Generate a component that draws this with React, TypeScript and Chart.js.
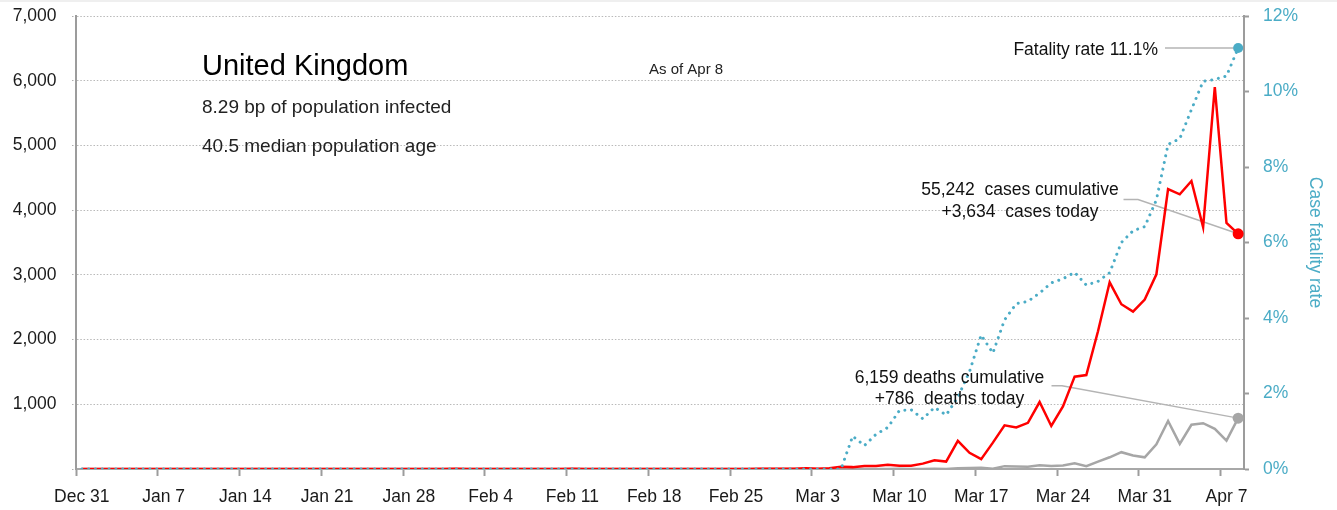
import React, { useEffect, useRef } from "react";
import { Chart, registerables } from "chart.js";

Chart.register(...registerables);

// ---------- data ----------
const MONTHS = ["Jan", "Feb", "Mar", "Apr"];
const MONTH_DAYS = [31, 29, 31, 30];
const FIRST_DAY = "Dec 31";
const DAY_COUNT = 100; // Dec 31 .. Apr 8

const weekTickLabels = [
  "Dec 31", "Jan 7", "Jan 14", "Jan 21", "Jan 28", "Feb 4", "Feb 11", "Feb 18",
  "Feb 25", "Mar 3", "Mar 10", "Mar 17", "Mar 24", "Mar 31", "Apr 7",
];

// daily new cases (left axis)
const dailyCases = [
  0, 0, 0, 0, 0, 0, 0, 0, 0, 0,
  0, 0, 0, 0, 0, 0, 0, 0, 0, 0,
  0, 0, 0, 0, 0, 0, 0, 0, 0, 0,
  0, 0, 2, 0, 0, 0, 0, 0, 1, 0,
  0, 0, 4, 0, 1, 0, 0, 0, 0, 0,
  0, 0, 0, 0, 0, 0, 0, 0, 4, 2,
  5, 3, 13, 4, 11, 34, 29, 48, 45, 64,
  51, 52, 83, 134, 115, 435, 251, 152, 407, 676,
  643, 714, 1035, 665, 967, 1427, 1452, 2129, 2885, 2546,
  2433, 2619, 3009, 4324, 4244, 4450, 3735, 5903, 3802, 3634,
];

// daily new deaths (left axis)
const dailyDeaths = [
  0, 0, 0, 0, 0, 0, 0, 0, 0, 0,
  0, 0, 0, 0, 0, 0, 0, 0, 0, 0,
  0, 0, 0, 0, 0, 0, 0, 0, 0, 0,
  0, 0, 0, 0, 0, 0, 0, 0, 0, 0,
  0, 0, 0, 0, 0, 0, 0, 0, 0, 0,
  0, 0, 0, 0, 0, 0, 0, 0, 0, 0,
  0, 0, 0, 0, 0, 0, 1, 0, 1, 1,
  2, 1, 0, 4, 0, 11, 14, 20, 5, 44,
  40, 33, 56, 48, 54, 87, 43, 113, 181, 260,
  209, 180, 381, 743, 389, 684, 708, 621, 439, 786,
];

// case fatality rate, % (right axis)
const fatalityRate = [
  0, 0, 0, 0, 0, 0, 0, 0, 0, 0,
  0, 0, 0, 0, 0, 0, 0, 0, 0, 0,
  0, 0, 0, 0, 0, 0, 0, 0, 0, 0,
  0, 0, 0, 0, 0, 0, 0, 0, 0, 0,
  0, 0, 0, 0, 0, 0, 0, 0, 0, 0,
  0, 0, 0, 0, 0, 0, 0, 0, 0, 0,
  0, 0, 0, 0, 0, 0, 0.87, 0.62, 0.92, 1.1,
  1.55, 1.57, 1.33, 1.63, 1.43, 1.9, 2.58, 3.55, 3.07, 3.95,
  4.38, 4.44, 4.66, 4.93, 5.04, 5.21, 4.87, 4.97, 5.2, 6.0,
  6.31, 6.42, 7.13, 8.6, 8.75, 9.52, 10.27, 10.32, 10.41, 11.15,
];

const leftTicks = [0, 1000, 2000, 3000, 4000, 5000, 6000, 7000];
const rightTicks = [0, 2, 4, 6, 8, 10, 12];

const countryName = "United Kingdom";
const infoLines = ["8.29 bp of population infected", "40.5 median population age"];
const asOfText = "As of Apr 8";
const fatalityNote = "Fatality rate 11.1%";
const casesNote = ["55,242  cases cumulative", "+3,634  cases today"];
const deathsNote = ["6,159 deaths cumulative", "+786  deaths today"];

function buildDays(): string[] {
  const out: string[] = [FIRST_DAY];
  for (let m = 0; m < MONTHS.length && out.length < DAY_COUNT; m++) {
    for (let d = 1; d <= MONTH_DAYS[m] && out.length < DAY_COUNT; d++) {
      out.push(`${MONTHS[m]} ${d}`);
    }
  }
  return out;
}
const days = buildDays();

// ---------- styling ----------
const FONT = "'Liberation Sans', Arial, Helvetica, sans-serif";
const TEAL = "#4bacc6";
const RED = "#ff0000";
const GRAY = "#a6a6a6";
const AXIS = "#9c9c9c";
const LEADER = "#b4b4b4";

const lastIdx = DAY_COUNT - 1;
const pointSizes = (r: number) => days.map((_, i) => (i === lastIdx ? r : 0));

const overlayPlugin = {
  id: "overlay",
  beforeDraw(chart: any) {
    const { ctx, width, height } = chart;
    ctx.save();
    ctx.fillStyle = "#ffffff";
    ctx.fillRect(0, 0, width, height);
    ctx.fillStyle = "#efefef";
    ctx.fillRect(0, 0, width, 2);
    ctx.restore();
  },
  beforeDatasetsDraw(chart: any) {
    const { ctx } = chart;
    const tealPt = chart.getDatasetMeta(0).data[lastIdx];
    const redPt = chart.getDatasetMeta(1).data[lastIdx];
    const grayPt = chart.getDatasetMeta(2).data[lastIdx];
    ctx.save();
    ctx.strokeStyle = LEADER;
    ctx.lineWidth = 1.5;
    ctx.beginPath();
    ctx.moveTo(1165, tealPt.y);
    ctx.lineTo(tealPt.x, tealPt.y);
    ctx.stroke();
    ctx.beginPath();
    ctx.moveTo(1123.5, 199.5);
    ctx.lineTo(1138, 199.5);
    ctx.lineTo(redPt.x, redPt.y);
    ctx.stroke();
    ctx.beginPath();
    ctx.moveTo(1051.5, 385.7);
    ctx.lineTo(1062, 385.7);
    ctx.lineTo(grayPt.x, grayPt.y);
    ctx.stroke();
    ctx.restore();
  },
  afterDatasetsDraw(chart: any) {
    const { ctx } = chart;
    ctx.save();
    ctx.textBaseline = "alphabetic";
    ctx.fillStyle = "#000";
    ctx.textAlign = "left";
    ctx.font = `29px ${FONT}`;
    ctx.fillText(countryName, 202, 75);
    ctx.fillStyle = "#222";
    ctx.font = `19px ${FONT}`;
    ctx.fillText(infoLines[0], 202, 112.7);
    ctx.fillText(infoLines[1], 202, 151.7);
    ctx.font = `15px ${FONT}`;
    ctx.fillText(asOfText, 649, 74);

    ctx.fillStyle = "#111";
    ctx.font = `17.5px ${FONT}`;
    ctx.textAlign = "right";
    ctx.fillText(fatalityNote, 1158, 54.5);
    ctx.textAlign = "center";
    ctx.fillText(casesNote[0], 1020, 195);
    ctx.fillText(casesNote[1], 1020, 217.3);
    ctx.fillText(deathsNote[0], 949.5, 382.5);
    ctx.fillText(deathsNote[1], 949.5, 404);
    ctx.restore();
  },
};

export default function App() {
  const canvasRef = useRef<HTMLCanvasElement | null>(null);

  useEffect(() => {
    const canvas = canvasRef.current;
    if (!canvas) return;
    Chart.defaults.font.family = FONT;

    const chart = new Chart(canvas, {
      type: "line",
      data: {
        labels: days,
        datasets: [
          {
            label: "Case fatality rate",
            data: fatalityRate,
            yAxisID: "y1",
            borderColor: TEAL,
            backgroundColor: TEAL,
            borderWidth: 3,
            borderDash: [0.01, 6.8],
            borderCapStyle: "round",
            pointRadius: pointSizes(5),
            pointBackgroundColor: TEAL,
            pointBorderWidth: 0,
            tension: 0,
            order: 0,
          },
          {
            label: "Daily cases",
            data: dailyCases,
            yAxisID: "y",
            borderColor: RED,
            backgroundColor: RED,
            borderWidth: 2.5,
            pointRadius: pointSizes(5.5),
            pointBackgroundColor: RED,
            pointBorderWidth: 0,
            tension: 0,
            order: 1,
          },
          {
            label: "Daily deaths",
            data: dailyDeaths,
            yAxisID: "y",
            borderColor: GRAY,
            backgroundColor: GRAY,
            borderWidth: 2.5,
            pointRadius: pointSizes(5.5),
            pointBackgroundColor: GRAY,
            pointBorderWidth: 0,
            tension: 0,
            order: 2,
          },
        ],
      },
      options: {
        responsive: false,
        maintainAspectRatio: false,
        animation: false,
        devicePixelRatio: 1,
        events: [],
        layout: { padding: { top: 16, left: 0, right: 0, bottom: 0 } },
        plugins: {
          legend: { display: false },
          tooltip: { enabled: false },
          title: { display: false },
        },
        scales: {
          x: {
            type: "category",
            offset: true,
            grid: {
              display: true,
              drawOnChartArea: false,
              drawTicks: true,
              offset: true,
              tickLength: 7,
              tickWidth: 2,
              tickColor: (c: any) =>
                c.index !== undefined && c.tick && weekTickLabels.includes(days[c.index])
                  ? AXIS
                  : "rgba(0,0,0,0)",
            },
            border: { display: true, color: "#a8a8a8", width: 2 },
            ticks: {
              autoSkip: false,
              maxRotation: 0,
              minRotation: 0,
              padding: 11,
              color: "#1a1a1a",
              font: { size: 17.5, family: FONT },
              callback: (_v: any, index: number) =>
                weekTickLabels.includes(days[index]) ? days[index] : "",
            },
            afterFit: (scale: any) => {
              scale.height = 41;
              scale.paddingLeft = 0;
              scale.paddingRight = 0;
            },
          },
          y: {
            position: "left",
            min: leftTicks[0],
            max: leftTicks[leftTicks.length - 1],
            afterBuildTicks: (scale: any) => {
              scale.ticks = leftTicks.map((v) => ({ value: v }));
            },
            grid: {
              color: "#b9b9b9",
              lineWidth: 1,
              drawTicks: true,
              tickLength: 4,
              tickColor: "#b0b0b0",
              tickBorderDash: [1.5, 1.5],
            },
            border: { display: true, color: AXIS, width: 2, dash: [1.5, 1.8] },
            ticks: {
              padding: 15.5,
              color: "#1a1a1a",
              font: { size: 17.5, family: FONT },
              callback: (v: any) => (v === 0 ? "" : Number(v).toLocaleString("en-US")),
            },
            afterFit: (scale: any) => {
              scale.width = 76;
              scale.paddingTop = 0;
              scale.paddingBottom = 0;
            },
          },
          y1: {
            position: "right",
            min: rightTicks[0],
            max: rightTicks[rightTicks.length - 1],
            afterBuildTicks: (scale: any) => {
              scale.ticks = rightTicks.map((v) => ({ value: v }));
            },
            grid: {
              drawOnChartArea: false,
              drawTicks: true,
              tickLength: 5,
              tickWidth: 2,
              tickColor: AXIS,
            },
            border: { display: true, color: AXIS, width: 2 },
            ticks: {
              padding: 14,
              color: TEAL,
              font: { size: 17.5, family: FONT },
              callback: (v: any) => `${v}%`,
            },
            title: {
              display: true,
              text: "Case fatality rate",
              color: TEAL,
              font: { size: 17.5, family: FONT },
              padding: { top: 11.5, bottom: 0 },
            },
            afterFit: (scale: any) => {
              scale.width = 93;
              scale.paddingTop = 0;
              scale.paddingBottom = 0;
            },
          },
        },
      },
      plugins: [overlayPlugin],
    } as any);

    return () => chart.destroy();
  }, []);

  return (
    <div
      style={{
        position: "fixed",
        left: 0,
        top: 0,
        width: 1337,
        height: 510,
        background: "#ffffff",
        overflow: "hidden",
      }}
    >
      <canvas
        ref={canvasRef}
        width={1337}
        height={510}
        style={{ display: "block", width: 1337, height: 510 }}
      />
    </div>
  );
}
